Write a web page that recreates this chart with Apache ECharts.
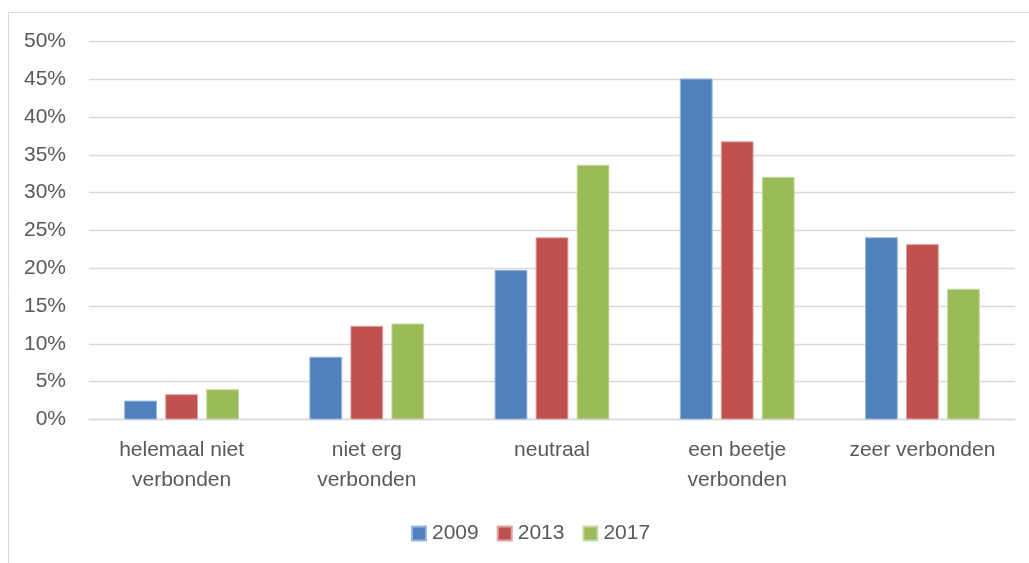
<!DOCTYPE html>
<html><head><meta charset="utf-8">
<script src="https://cdn.jsdelivr.net/npm/echarts@6/dist/echarts.min.js"></script>
<style>html,body{margin:0;padding:0;background:#fff}#c{width:1029px;height:563px}</style>
</head><body><div id="c"></div>
<script>
const categories = ["helemaal niet\nverbonden", "niet erg\nverbonden", "neutraal", "een beetje\nverbonden", "zeer verbonden"];
const s2009 = [2.5, 8.3, 19.8, 45.1, 24.1];
const s2013 = [3.35, 12.4, 24.1, 36.8, 23.2];
const s2017 = [4.0, 12.7, 33.7, 32.1, 17.3];
const seriesNames = ["2009", "2013", "2017"];
const colors = ["#4f81bd", "#c0504d", "#9bbb59"];
const borders = ["#9bb5d9", "#dea5a3", "#c8d9a8"];
const font = "'Liberation Sans', Arial, sans-serif";
const chart = echarts.init(document.getElementById('c'), null, {renderer: 'canvas'});
const data = [s2009, s2013, s2017];
chart.setOption({
  animation: false,
  textStyle: {fontFamily: font},
  graphic: [{type: 'rect', shape: {x: 8.5, y: 12.5, width: 1040, height: 580}, style: {fill: 'none', stroke: '#d9d9d9', lineWidth: 1}, silent: true}],
  grid: {left: 89, right: 14, top: 41.5, bottom: 143.5},
  legend: {
    top: 518, left: 406, itemWidth: 14, itemHeight: 14, itemGap: 18,
    icon: 'rect',
    textStyle: {color: '#595959', fontSize: 21, fontFamily: font, padding: [0, 0, 0, 1]},
    data: seriesNames
  },
  xAxis: {
    type: 'category', data: categories,
    axisLine: {lineStyle: {color: '#d9d9d9', width: 1.3}},
    axisTick: {show: false},
    axisLabel: {color: '#595959', fontSize: 21, lineHeight: 30, margin: 16, interval: 0, fontFamily: font}
  },
  yAxis: {
    type: 'value', min: 0, max: 50, interval: 5,
    axisLine: {show: false}, axisTick: {show: false},
    splitLine: {lineStyle: {color: '#d9d9d9', width: 1.3}},
    axisLabel: {color: '#595959', fontSize: 21, margin: 23, formatter: v => v + '%', fontFamily: font}
  },
  series: data.map((d, i) => ({
    name: seriesNames[i], type: 'bar', data: d,
    barGap: '25%', barCategoryGap: '38%',
    itemStyle: {color: colors[i], borderColor: borders[i], borderWidth: 1}
  }))
});
</script></body></html>
